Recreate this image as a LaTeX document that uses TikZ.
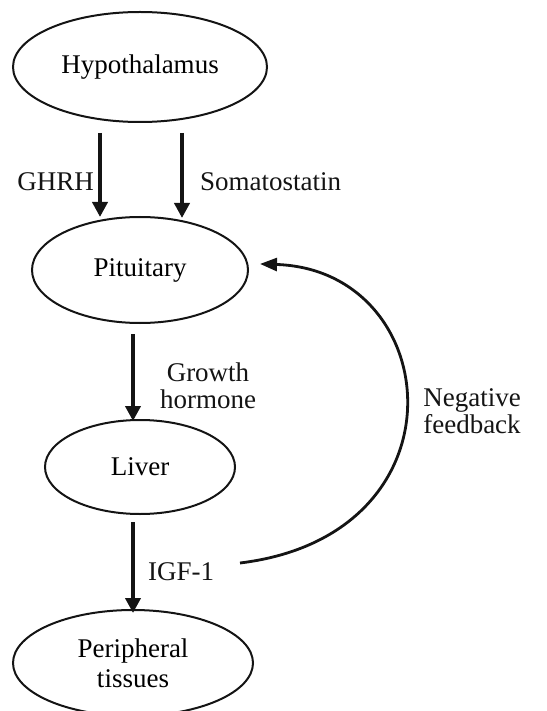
\documentclass[tikz,border=0pt]{standalone}
\usepackage{fontspec}
\setmainfont{Liberation Serif}
\usepackage{tikz}
\usetikzlibrary{shapes.geometric, arrows.meta, positioning}
\definecolor{mydark}{RGB}{20,20,20}
\tikzset{
  organ/.style={ellipse, draw=mydark, line width=2pt, inner sep=0pt,
    align=center, font=\fontsize{27}{30}\selectfont},
  arrow/.style={-{Triangle[length=15pt,width=15pt]}, line width=4pt, color=mydark},
  fbarrow/.style={-{Triangle[length=17pt,width=13pt]}, line width=2.8pt, color=mydark},
  lbl/.style={align=center, inner sep=0pt, font=\fontsize{27}{27}\selectfont, text=mydark}
}
\begin{document}
\begin{tikzpicture}[x=1pt, y=-1pt, node distance=94pt]
  \useasboundingbox (0,0) rectangle (546,711);
  % glands
  \node[organ, minimum width=254pt, minimum height=110pt] (hypo) at (140,67) {Hypothalamus};
  \node[organ, minimum width=216pt, minimum height=106pt, below=93pt of hypo] (pit) {Pituitary};
  \node[organ, minimum width=190pt, minimum height=94pt, below=95pt of pit] (liver) {Liver};
  \node[organ, minimum width=240pt, minimum height=106pt, below=94pt of liver, xshift=-7pt] (peri) {Peripheral\\tissues};

  % hormone labels
  \node[lbl, anchor=east] (ghrh) at (94,182) {GHRH};
  \node[lbl, anchor=west] (soma) at (200,182) {Somatostatin};
  \node[lbl] (gh) at (208,386) {Growth\\hormone};
  \node[lbl, anchor=west] (igf) at (148,572) {IGF-1};
  \node[lbl] (neg) at (472,411) {Negative\\feedback};

  % arrows
  \draw[arrow] ([xshift=-40pt, yshift=-10pt]hypo.south) -- ([xshift=-40pt, yshift=-1pt]hypo.south |- pit.north);
  \draw[arrow] ([xshift=42pt, yshift=-10pt]hypo.south) -- ([xshift=42pt, yshift=-2pt]hypo.south |- pit.north);
  \draw[arrow] ([xshift=-7pt, yshift=-10pt]pit.south) -- ([xshift=-7pt, yshift=-2pt]pit.south |- liver.north);
  \draw[arrow] ([xshift=-7pt, yshift=-7pt]liver.south) -- ([xshift=-7pt, yshift=-4pt]liver.south |- peri.north);

  \coordinate (fb) at (240,563);
  \draw[fbarrow, shorten >=-2pt] (fb) .. controls (470,535) and (445,270) .. ([xshift=13pt, yshift=6pt]pit.east);
\end{tikzpicture}
\end{document}
